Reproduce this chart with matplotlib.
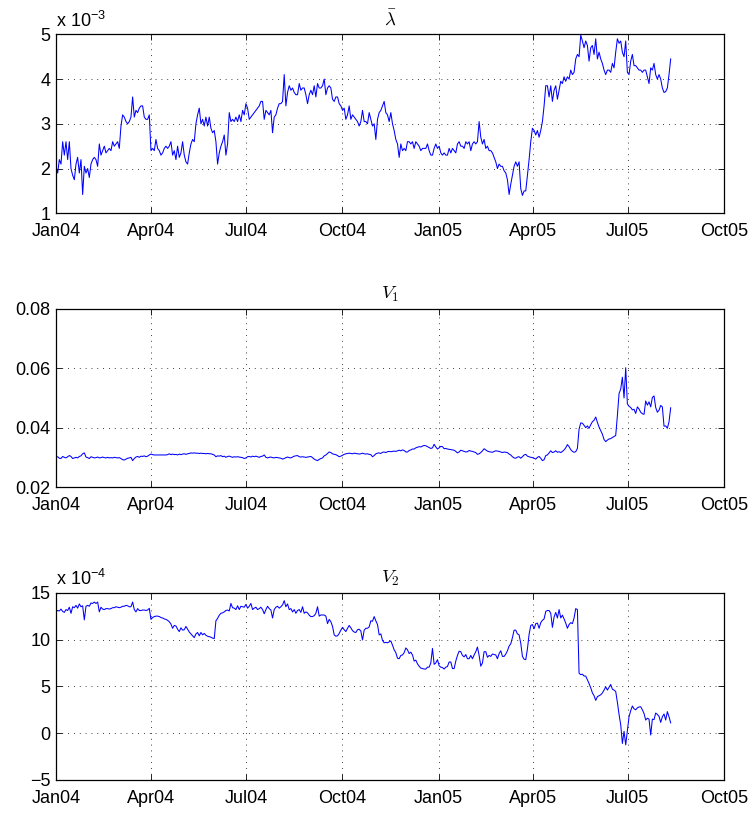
import matplotlib
matplotlib.use("Agg")
import matplotlib.pyplot as plt
import pandas as pd

plt.rcParams['font.family'] = ['Liberation Sans', 'DejaVu Sans']
plt.rcParams['mathtext.fontset'] = 'custom'
plt.rcParams['mathtext.rm'] = 'Liberation Sans'
plt.rcParams['mathtext.it'] = 'Liberation Sans:italic'
plt.rcParams['mathtext.bf'] = 'Liberation Sans:bold'

# ---------------- data ----------------
start_date = '2004-01-01'
end_date = '2005-08-11'

xtick_dates = ['2004-01-01', '2004-04-01', '2004-07-01', '2004-10-01',
               '2005-01-01', '2005-04-01', '2005-07-01', '2005-10-01']
xtick_labels = ['Jan04', 'Apr04', 'Jul04', 'Oct04', 'Jan05', 'Apr05', 'Jul05', 'Oct05']

# lambda-bar, in units of 1e-3
lambda_bar_e3 = [
    2.05, 1.9, 2.2, 2.1, 2.6, 2.3, 2.6, 2.2, 2.6, 2.0,
    1.85, 1.75, 2.1, 2.25, 1.9, 2.2, 1.42, 2.05, 1.9, 2.0,
    1.8, 2.1, 2.2, 2.25, 2.2, 2.05, 2.55, 2.3, 2.4, 2.5,
    2.35, 2.4, 2.45, 2.4, 2.6, 2.5, 2.55, 2.6, 2.45, 2.95,
    3.2, 3.15, 3.05, 3.0, 3.05, 3.15, 3.6, 3.15, 3.3, 3.25,
    3.35, 3.4, 3.4, 3.15, 3.1, 3.1, 3.2, 2.4, 2.45, 2.4,
    2.65, 2.45, 2.4, 2.3, 2.35, 2.45, 2.5, 2.45, 2.5, 2.6,
    2.3, 2.4, 2.2, 2.5, 2.25, 2.35, 2.6, 2.3, 2.15, 2.1,
    2.35, 2.55, 2.65, 2.6, 3.0, 3.2, 3.35, 3.0, 3.1, 2.95,
    3.15, 2.95, 3.15, 2.9, 2.8, 2.85, 2.6, 2.1, 2.35, 2.5,
    2.6, 2.75, 2.3, 2.55, 3.25, 3.05, 3.1, 3.05, 3.15, 3.05,
    3.2, 3.05, 3.3, 3.2, 3.45, 3.35, 3.1, 3.15, 3.2, 3.25,
    3.3, 3.35, 3.4, 3.5, 3.5, 3.1, 3.3, 3.25, 3.2, 3.3,
    2.8, 3.15, 3.2, 3.35, 3.45, 3.45, 3.5, 4.1, 3.4, 3.7,
    3.85, 3.75, 3.8, 3.7, 3.65, 3.65, 3.9, 3.75, 3.8, 3.8,
    3.65, 3.45, 3.65, 3.75, 3.65, 3.85, 3.6, 3.9, 3.8, 3.8,
    3.85, 4.0, 3.65, 3.8, 3.85, 3.8, 3.55, 3.5, 3.6, 3.6,
    3.45, 3.4, 3.3, 3.35, 3.1, 3.2, 3.4, 3.1, 3.2, 3.15,
    3.1, 3.05, 2.95, 3.05, 3.3, 3.05, 3.05, 3.0, 3.25, 3.1,
    2.95, 3.0, 2.65, 3.1, 3.25, 3.3, 3.4, 3.5, 3.25, 3.2,
    3.05, 3.25, 3.0, 2.85, 2.65, 2.55, 2.25, 2.55, 2.4, 2.45,
    2.4, 2.6, 2.6, 2.55, 2.6, 2.45, 2.6, 2.55, 2.5, 2.4,
    2.45, 2.45, 2.45, 2.55, 2.4, 2.3, 2.3, 2.45, 2.55, 2.45,
    2.5, 2.35, 2.3, 2.35, 2.3, 2.3, 2.45, 2.35, 2.45, 2.4,
    2.35, 2.55, 2.6, 2.5, 2.5, 2.45, 2.6, 2.55, 2.6, 2.4,
    2.55, 2.6, 2.55, 2.6, 3.05, 2.7, 2.55, 2.65, 2.45, 2.5,
    2.4, 2.4, 2.35, 2.25, 2.15, 2.0, 2.1, 2.05, 2.05, 1.95,
    1.9, 1.75, 1.42, 1.65, 1.85, 2.05, 2.15, 2.05, 2.15, 1.55,
    1.4, 1.5, 1.5, 1.85, 2.2, 2.6, 2.9, 2.85, 2.75, 2.85,
    2.7, 2.85, 3.05, 3.4, 3.85, 3.85, 3.6, 3.85, 3.5, 3.75,
    3.85, 3.55, 3.75, 3.95, 3.9, 4.05, 3.95, 4.05, 4.0, 4.2,
    4.1, 4.15, 4.45, 4.55, 4.5, 4.98, 4.85, 4.7, 4.85, 4.75,
    4.4, 4.7, 4.75, 4.55, 4.9, 4.45, 4.6, 4.45, 4.35, 4.2,
    4.1, 4.2, 4.2, 4.15, 4.35, 4.25, 4.6, 4.9, 4.8, 4.85,
    4.6, 4.5, 4.85, 4.15, 4.1, 4.4, 4.55, 4.3, 4.3, 4.25,
    4.2, 4.2, 4.15, 4.2, 4.2, 4.05, 3.9, 4.25, 4.2, 4.35,
    4.1, 4.0, 4.1, 4.0, 3.8, 3.7, 3.72, 3.8, 4.1, 4.45,
]

V1 = [
    .0301, .0302, .0297, .0296, .0303, .0300, .0298, .0302, .0306, .0303,
    .0296, .0298, .0300, .0298, .0303, .0305, .0312, .0315, .0301, .0299,
    .0296, .0302, .0300, .0298, .0299, .0301, .0298, .0299, .0301, .0299,
    .0298, .0300, .0298, .0299, .0298, .0300, .0299, .0298, .0299, .0296,
    .0292, .0291, .0294, .0297, .0298, .0300, .0289, .0296, .0301, .0303,
    .0300, .0304, .0303, .0305, .0302, .0304, .0308, .0311, .0309, .0308,
    .0308, .0308, .0308, .0308, .0308, .0308, .0308, .0309, .0312, .0309,
    .0311, .0309, .0310, .0308, .0311, .0309, .0311, .0312, .0310, .0312,
    .0313, .0315, .0314, .0315, .0314, .0314, .0313, .0314, .0313, .0313,
    .0312, .0313, .0312, .0312, .0310, .0308, .0302, .0305, .0304, .0306,
    .0302, .0304, .0300, .0303, .0304, .0302, .0300, .0302, .0301, .0302,
    .0301, .0300, .0299, .0296, .0298, .0302, .0303, .0301, .0304, .0302,
    .0304, .0302, .0300, .0303, .0304, .0308, .0300, .0298, .0300, .0301,
    .0299, .0298, .0300, .0299, .0298, .0297, .0294, .0296, .0299, .0301,
    .0299, .0298, .0301, .0304, .0305, .0306, .0302, .0301, .0302, .0301,
    .0300, .0301, .0302, .0303, .0299, .0294, .0291, .0289, .0293, .0296,
    .0298, .0305, .0308, .0313, .0318, .0316, .0312, .0310, .0309, .0306,
    .0302, .0304, .0307, .0310, .0312, .0313, .0314, .0313, .0312, .0314,
    .0313, .0312, .0311, .0312, .0314, .0312, .0311, .0312, .0310, .0309,
    .0302, .0306, .0312, .0314, .0315, .0313, .0317, .0318, .0316, .0319,
    .0320, .0319, .0320, .0321, .0320, .0322, .0324, .0322, .0325, .0323,
    .0318, .0318, .0323, .0325, .0328, .0328, .0332, .0334, .0336, .0335,
    .0338, .0340, .0339, .0336, .0333, .0330, .0332, .0344, .0335, .0328,
    .0332, .0337, .0336, .0329, .0330, .0328, .0327, .0326, .0325, .0324,
    .0320, .0315, .0318, .0324, .0322, .0320, .0318, .0319, .0323, .0321,
    .0320, .0318, .0316, .0310, .0312, .0316, .0322, .0329, .0325, .0321,
    .0319, .0318, .0317, .0320, .0322, .0321, .0320, .0318, .0316, .0318,
    .0317, .0316, .0311, .0308, .0302, .0298, .0297, .0301, .0302, .0297,
    .0302, .0308, .0310, .0304, .0302, .0300, .0299, .0297, .0294, .0300,
    .0303, .0297, .0289, .0292, .0306, .0308, .0315, .0322, .0316, .0318,
    .0322, .0317, .0319, .0316, .0320, .0325, .0332, .0343, .0336, .0326,
    .0320, .0317, .0319, .0330, .0395, .0416, .0415, .0408, .0400, .0406,
    .0398, .0410, .0420, .0425, .0436, .0418, .0402, .0390, .0378, .0360,
    .0353, .0358, .0362, .0363, .0367, .0370, .0374, .0440, .0515, .0530,
    .0570, .0500, .0602, .0480, .0472, .0468, .0460, .0462, .0448, .0470,
    .0463, .0452, .0447, .0445, .0490, .0476, .0487, .0470, .0502, .0507,
    .0468, .0452, .0459, .0475, .0470, .0405, .0406, .0398, .0420, .0467,
]

# V2, in units of 1e-4
V2_e4 = [
    12.97, 13.1, 13.05, 13.25, 13.0, 12.9, 13.2, 13.1, 13.45, 12.8,
    13.5, 13.4, 13.65, 13.35, 13.8, 13.5, 13.6, 12.1, 13.55, 13.65,
    13.55, 13.9, 13.85, 14.0, 13.85, 14.0, 12.95, 13.45, 13.25, 13.2,
    13.3, 13.3, 13.25, 13.3, 13.4, 13.4, 13.5, 13.45, 13.4, 13.45,
    13.55, 13.55, 13.65, 13.6, 13.5, 13.5, 14.0, 13.2, 12.95, 13.3,
    13.1, 13.1, 13.15, 13.15, 13.1, 13.15, 13.33, 12.15, 12.35, 12.45,
    12.5, 12.5, 12.45, 12.35, 12.3, 12.2, 12.15, 12.05, 11.9, 11.65,
    11.2, 11.5, 11.45, 11.1, 10.85, 11.25, 11.0, 11.05, 11.4, 11.1,
    10.8, 10.6, 10.4, 10.2, 10.6, 10.75, 10.4, 10.75, 10.5, 10.65,
    10.45, 10.35, 10.3, 10.25, 10.15, 10.1, 12.0, 12.25, 12.6, 12.8,
    12.85, 12.95, 13.1, 13.15, 13.05, 13.85, 13.4, 13.35, 13.2, 13.6,
    13.2, 13.55, 13.5, 13.45, 13.75, 13.35, 13.55, 13.85, 13.2, 13.35,
    13.45, 13.2, 13.3, 13.45, 13.2, 12.75, 13.2, 13.55, 13.3, 13.15,
    12.3, 13.2, 13.45, 13.55, 13.35, 13.5, 13.7, 14.15, 13.5, 13.8,
    13.2, 13.3, 12.95, 13.2, 12.8, 13.1, 13.2, 12.9, 13.5, 12.8,
    12.95, 12.85, 12.6, 12.45, 12.45, 12.55, 12.8, 13.5, 12.5, 12.62,
    12.62, 12.62, 12.5, 11.7, 12.15, 11.9, 11.4, 10.5, 10.35, 10.4,
    10.65, 11.0, 11.3, 11.05, 10.85, 11.2, 11.5, 11.25, 10.95, 10.8,
    10.75, 11.05, 11.1, 10.9, 9.95, 11.0, 11.2, 11.2, 11.35, 12.0,
    11.95, 12.45, 12.0, 11.6, 10.5, 10.6, 9.9, 9.65, 9.7, 9.65,
    9.75, 9.85, 9.4, 8.9, 8.6, 8.0, 7.95, 8.3, 8.35, 8.6,
    9.1, 8.9, 8.5, 8.65, 8.35, 7.7, 7.8, 7.4, 7.15, 6.95,
    6.9, 6.85, 6.85, 7.05, 7.05, 7.5, 9.05, 7.35, 7.5, 7.85,
    7.2, 7.05, 7.0, 6.85, 7.05, 7.12, 7.6, 7.6, 6.9, 6.9,
    7.7, 8.3, 8.75, 8.7, 8.3, 8.15, 8.4, 7.95, 7.95, 8.3,
    7.95, 8.35, 8.7, 9.2, 8.3, 7.15, 7.5, 8.7, 8.7, 8.1,
    8.3, 8.2, 8.45, 8.4, 8.35, 7.95, 8.5, 8.8, 8.2, 8.2,
    8.45, 8.8, 9.3, 9.55, 10.2, 11.0, 11.0, 10.6, 10.5, 9.6,
    8.2, 7.9, 7.85, 9.0, 10.55, 11.5, 11.6, 11.15, 11.7, 11.75,
    11.2, 11.8, 12.05, 12.2, 13.0, 13.1, 13.1, 12.8, 11.3, 12.4,
    12.9, 12.3, 13.2, 12.3, 12.6, 12.2, 11.75, 11.2, 11.6, 11.8,
    11.7, 12.3, 13.3, 13.2, 6.4, 6.25, 6.3, 6.1, 6.1, 5.7,
    5.3, 4.85, 4.3, 4.0, 3.5, 3.9, 4.0, 4.1, 4.3, 4.6,
    4.95, 4.6, 4.9, 5.2, 4.7, 4.6, 4.45, 3.3, 2.0, 0.9,
    -1.1, 0.2, -1.25, 0.3, 1.75, 2.4, 2.9, 2.6, 2.5, 2.7,
    2.8, 2.82, 2.5, 2.1, 1.4, 1.6, 1.5, -0.2, 1.5, 1.45,
    2.15, 2.0, 1.8, 1.15, 1.75, 2.05, 1.4, 2.3, 1.75, 1.1,
]

panels = [
    dict(values=lambda_bar_e3, title=r'$\bar{\lambda}$', ylim=(1, 5),
         yticks=[1, 2, 3, 4, 5], yticklabels=['1', '2', '3', '4', '5'], exponent='-3'),
    dict(values=V1, title=r'$V_1$', ylim=(0.02, 0.08),
         yticks=[0.02, 0.04, 0.06, 0.08], yticklabels=['0.02', '0.04', '0.06', '0.08'], exponent=None),
    dict(values=V2_e4, title=r'$V_2$', ylim=(-5, 15),
         yticks=[-5, 0, 5, 10, 15], yticklabels=['\u22125', '0', '5', '10', '15'], exponent='-4'),
]

# ---------------- layout ----------------
W, H = 753, 814
fig = plt.figure(figsize=(W / 100, H / 100), dpi=100)
ax_left, ax_right = 56, 724
ax_boxes = [(34.3, 213.3), (309.0, 487.0), (592.7, 780.0)]  # (top, bottom) in px

for p, (top, bottom) in zip(panels, ax_boxes):
    ax = fig.add_axes([ax_left / W, (H - bottom) / H, (ax_right - ax_left) / W, (bottom - top) / H])
    vals = p['values']
    dates = pd.date_range(start_date, end_date, periods=len(vals))
    ax.plot(dates, vals, color='#0000ff', lw=0.75)
    ax.set_xlim(pd.Timestamp(xtick_dates[0]), pd.Timestamp(xtick_dates[-1]))
    ax.set_xticks([pd.Timestamp(d) for d in xtick_dates])
    ax.set_xticklabels(xtick_labels)
    ax.set_ylim(*p['ylim'])
    ax.set_yticks(p['yticks'])
    ax.set_yticklabels(p['yticklabels'])
    ax.grid(True, color='black', linestyle=(0, (1, 6)), lw=0.6)
    ax.tick_params(direction='in', length=4.5, width=0.6, top=True, right=True,
                   labelsize=13, colors='black')
    ax.tick_params(axis='x', pad=7)
    ax.tick_params(axis='y', pad=4)
    for s in ax.spines.values():
        s.set_linewidth(0.9)
    ax.set_title(p['title'], fontsize=13.5, pad=7, math_fontfamily='cm')
    if p['exponent']:
        ax.annotate('x 10$^{' + p['exponent'] + '}$', xy=(0, 1), xycoords='axes fraction',
                    xytext=(0, 2.5), textcoords='offset points', ha='left', va='bottom',
                    fontsize=13)

fig.savefig('out.png', dpi=100)
